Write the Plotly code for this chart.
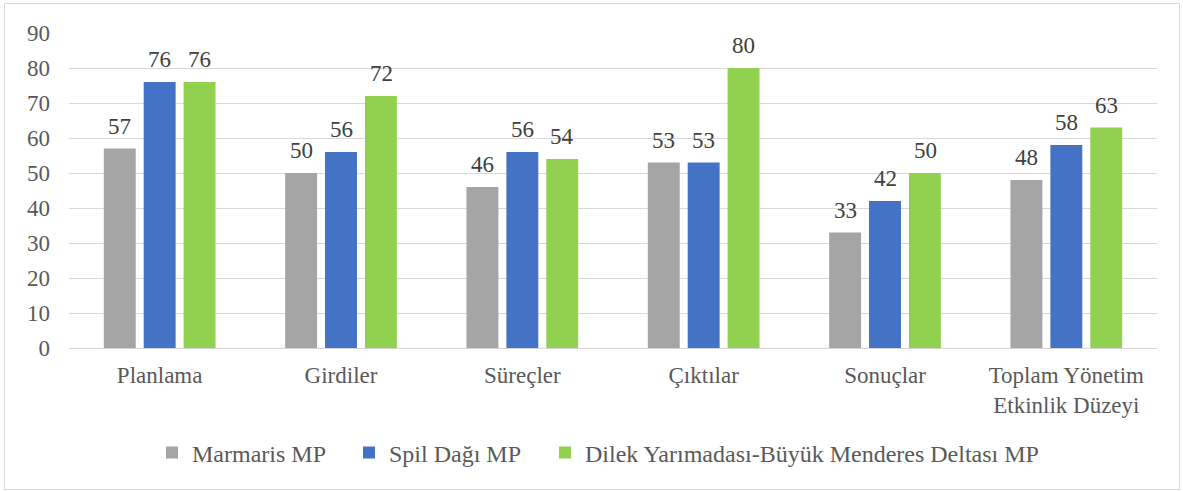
import plotly.graph_objects as go

categories = ["Planlama", "Girdiler", "Süreçler", "Çıktılar", "Sonuçlar", "Toplam Yönetim<br>Etkinlik Düzeyi"]
series_names = ["Marmaris MP", "Spil Dağı MP", "Dilek Yarımadası-Büyük Menderes Deltası MP"]
marmaris = [57, 50, 46, 53, 33, 48]
spil = [76, 56, 56, 53, 42, 58]
dilek = [76, 72, 54, 80, 50, 63]
colors = ["#A5A5A5", "#4472C4", "#92D050"]
y_ticks = [0, 10, 20, 30, 40, 50, 60, 70, 80, 90]

FONT = "Liberation Serif"
TXT = "#595959"
FS = 23

L, R, T, B = 69, 26, 33, 143
W, H = 1183, 491
pw, ph = W - L - R, H - T - B
def px2x(p):
    return (p - L) / pw
def py2y(p):
    return (H - B - p) / ph

legend_ids = ["legend", "legend2", "legend3"]
legend_left_px = [152, 349, 545]

fig = go.Figure()
all_vals = [marmaris, spil, dilek]
for name, vals, col, lid in zip(series_names, all_vals, colors, legend_ids):
    fig.add_trace(go.Bar(x=categories, y=vals, name=name, marker=dict(color=col, line=dict(width=0)),
                         hoverinfo="x+y+name", legend=lid))

shifts = [-40, 0, 40]
annotations = []
for vals, sh in zip(all_vals, shifts):
    for c, v in zip(categories, vals):
        annotations.append(dict(x=c, y=v, text=str(v), showarrow=False, xref="x", yref="y",
                                xshift=sh, yanchor="bottom", yshift=8,
                                font=dict(family=FONT, size=FS, color="#404040")))

legend_cfg = {}
for lid, lx in zip(legend_ids, legend_left_px):
    legend_cfg[lid] = dict(orientation="h", x=px2x(lx), xanchor="left", y=py2y(453), yanchor="middle",
                           font=dict(family=FONT, size=24, color=TXT), itemwidth=30,
                           bgcolor="rgba(0,0,0,0)")

fig.update_layout(
    width=W, height=H,
    margin=dict(l=L, r=R, t=T, b=B, pad=0),
    paper_bgcolor="white", plot_bgcolor="white",
    barmode="group", bargap=0.34, bargroupgap=0.2,
    font=dict(family=FONT, size=FS, color=TXT),
    xaxis=dict(showgrid=False, showline=True, linecolor="#D9D9D9", linewidth=1, ticks="",
               ticklabelstandoff=6,
               tickfont=dict(family=FONT, size=FS, color=TXT), fixedrange=True),
    yaxis=dict(range=[0, 90], tickvals=y_ticks, showgrid=True, gridcolor="#D9D9D9", gridwidth=1,
               zeroline=False, showline=False, ticks="", ticklabelstandoff=18,
               tickfont=dict(family=FONT, size=FS, color=TXT), fixedrange=True),
    annotations=annotations,
    shapes=[dict(type="rect", xref="paper", yref="paper", x0=px2x(4.5), x1=px2x(1179.5),
                 y0=py2y(489.5), y1=py2y(3.5), line=dict(color="#D9D9D9", width=1), layer="below")],
    showlegend=True,
    **legend_cfg,
)

fig.write_html("out.html", config={"displayModeBar": False},
               post_script="document.body.style.margin='0';document.body.style.padding='0';")
